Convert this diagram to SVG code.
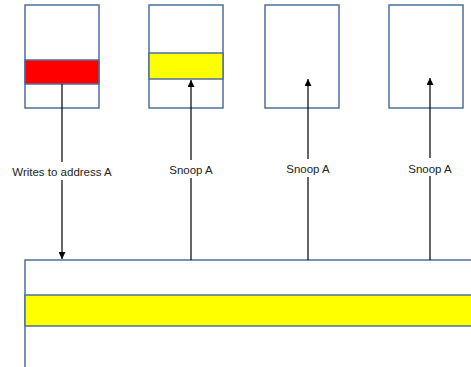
<svg xmlns="http://www.w3.org/2000/svg" width="471" height="367" viewBox="0 0 471 367">
<style>
.box{fill:#fff;stroke:#4f6f9f;stroke-width:1.5}
.red{fill:#ff0000;stroke:#4f6f9f;stroke-width:1.5}
.yel{fill:#ffff00;stroke:#4f6f9f;stroke-width:1.5}
.ln{stroke:#000;stroke-width:1.2;fill:none}
.lbl{font-family:"Liberation Sans",Arial,sans-serif;font-size:11.5px;fill:#222;text-anchor:middle}
</style>
<defs>
<marker id="ah" viewBox="0 0 10 10" refX="10" refY="5" markerWidth="7" markerHeight="7" markerUnits="userSpaceOnUse" orient="auto">
<path d="M0,0 L10,5 L0,10 z" fill="#000"/>
</marker>
</defs>
<rect width="471" height="367" fill="#fff"/>
<g id="cache1">
<rect class="box" x="25" y="5" width="74" height="103"/>
<rect class="red" x="25" y="60" width="74" height="24"/>
</g>
<g id="cache2">
<rect class="box" x="149" y="5" width="74" height="103"/>
<rect class="yel" x="149" y="53" width="74" height="26"/>
</g>
<g id="cache3">
<rect class="box" x="265" y="5" width="74" height="103"/>
</g>
<g id="cache4">
<rect class="box" x="389" y="5" width="74" height="103"/>
</g>
<g id="memory">
<rect class="box" x="25" y="260" width="460" height="120"/>
<rect class="yel" x="25" y="295" width="460" height="31"/>
</g>
<g id="connectors">
<line class="ln" x1="62" y1="84" x2="62" y2="162"/>
<line class="ln" x1="62" y1="180" x2="62" y2="259" marker-end="url(#ah)"/>
<line class="ln" x1="191" y1="260" x2="191" y2="178"/>
<line class="ln" x1="191" y1="160" x2="191" y2="80" marker-end="url(#ah)"/>
<line class="ln" x1="308" y1="260" x2="308" y2="177"/>
<line class="ln" x1="308" y1="159" x2="308" y2="79" marker-end="url(#ah)"/>
<line class="ln" x1="430" y1="260" x2="430" y2="176"/>
<line class="ln" x1="430" y1="158" x2="430" y2="78" marker-end="url(#ah)"/>
<text class="lbl" x="62" y="176">Writes to address A</text>
<text class="lbl" x="191" y="173.5">Snoop A</text>
<text class="lbl" x="308" y="173">Snoop A</text>
<text class="lbl" x="430" y="172.5">Snoop A</text>
</g>
</svg>
